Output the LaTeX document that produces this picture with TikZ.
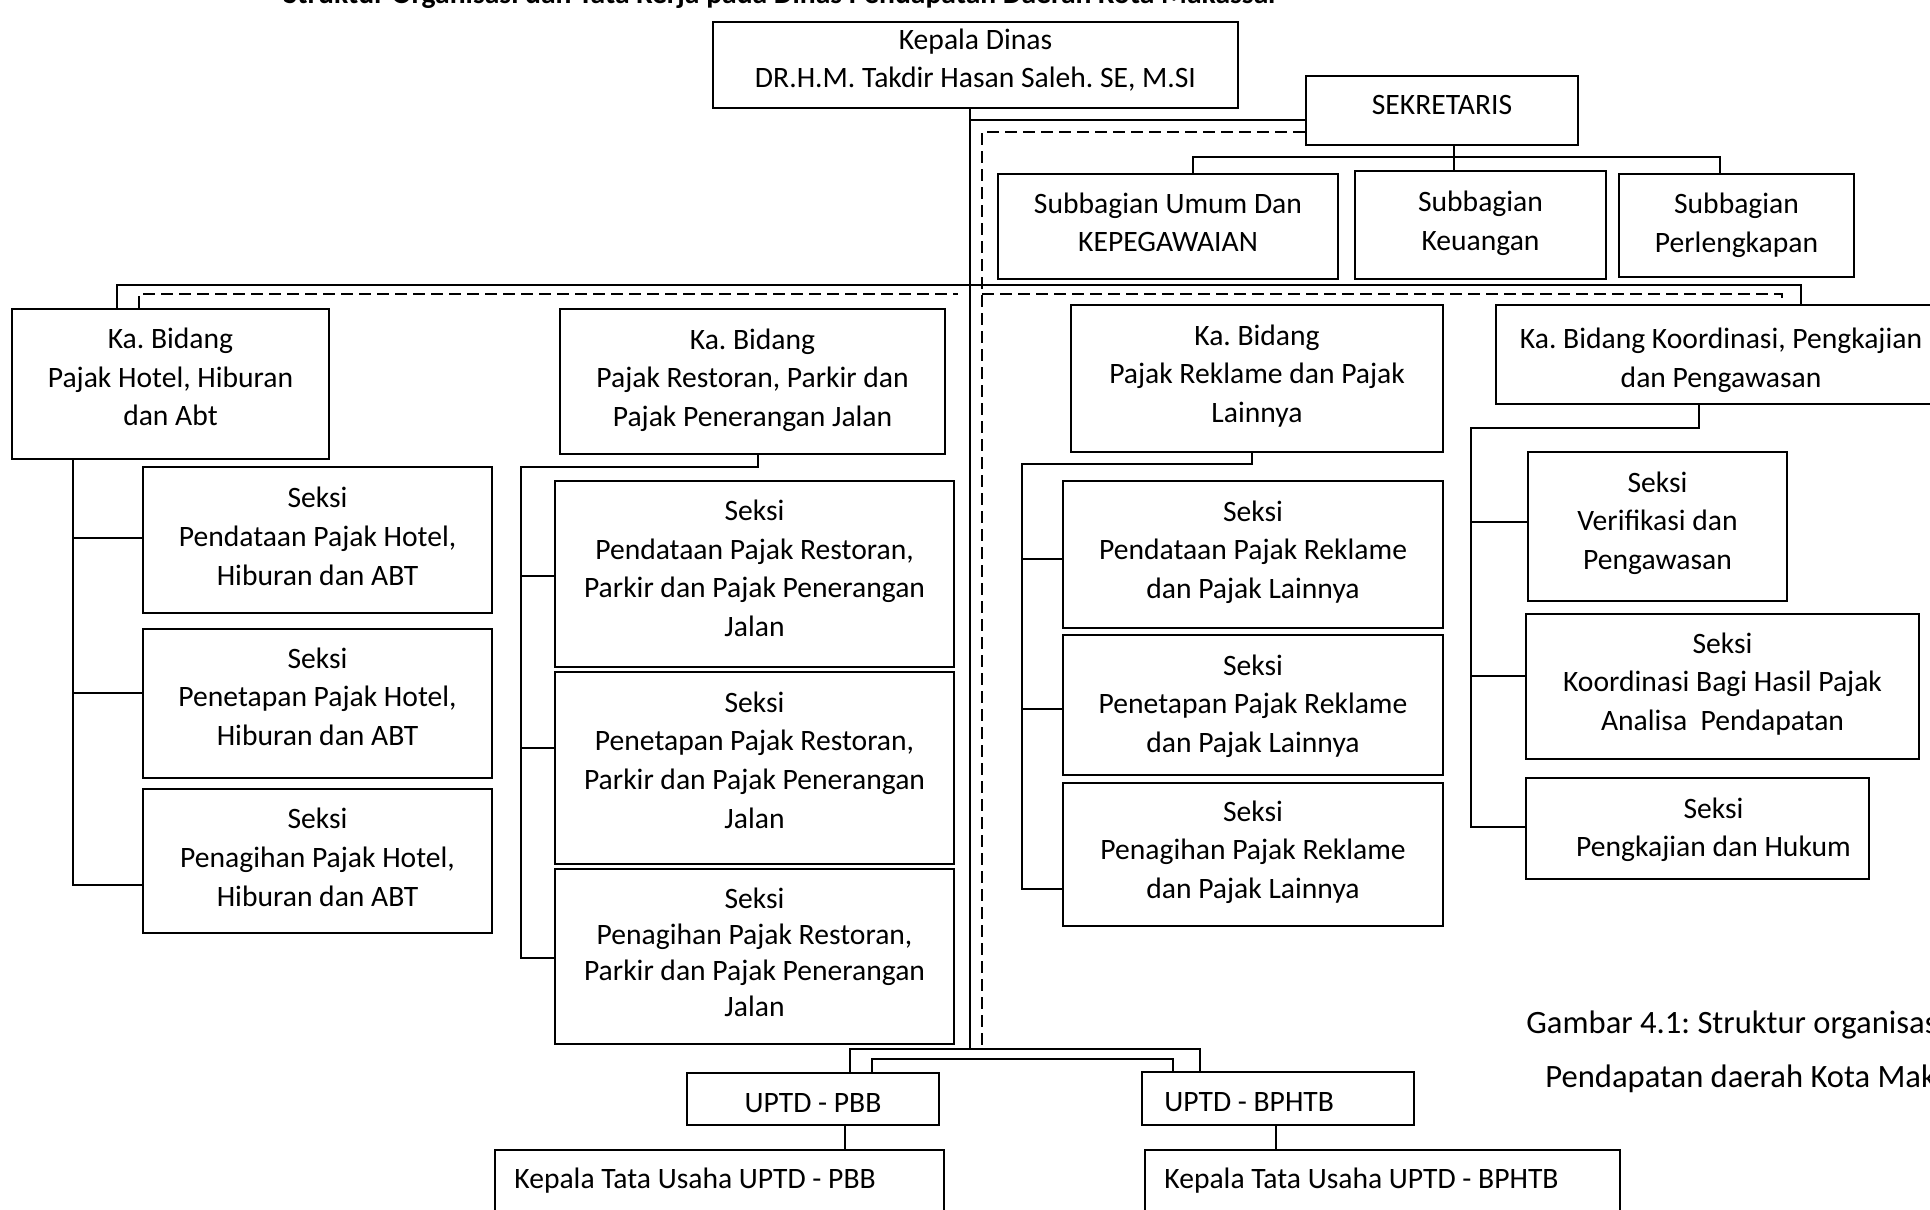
\documentclass[tikz,border=0pt]{standalone}
\usepackage{fontspec}
\setmainfont{Carlito}
\frenchspacing
% [text style]{name}{x1}{y1}{x2}{y2}{dx}{dy}{text}
\newcommand\bx[9][]{%
  \node[box, minimum width={0.5pt*(#5-#3)}, minimum height={0.5pt*(#6-#4)}] (#2) at ({(#3+#5)/2},{(#4+#6)/2}) {};
  \node[txt, align=center, #1] (#2-t) at ([xshift={0.5pt*(#7)}, yshift={-0.5pt*(#8)}]#2.center) {#9};}
\begin{document}
\begin{tikzpicture}[x=0.5pt,y=-0.5pt,
  box/.style={draw, line width=1.1pt, inner sep=0pt},
  txt/.style={inner sep=0pt, font=\fontsize{14.8}{19.3}\selectfont},
  conn/.style={line width=0.75pt},
  dconn/.style={line width=0.75pt, dash pattern=on 6pt off 3pt}]
\useasboundingbox (0,0) rectangle (1930,1209);
\clip (0,0) rectangle (1930,1209);
\fill[white] (0,0) rectangle (1930,1209);

% title (cut off at top)
\node[txt, font=\fontsize{14.8}{19.3}\selectfont\bfseries, anchor=base west] (title) at (283,4) {Struktur Organisasi dan Tata Kerja pada Dinas Pendapatan Daerah Kota Makassar};

% top level
\bx{kepala}{713}{22}{1238}{108}{0}{-5}{Kepala Dinas\\DR.H.M. Takdir Hasan Saleh. SE, M.SI}
\bx{sek}{1306}{76}{1578}{145}{0}{-6}{SEKRETARIS}
\bx{sumum}{998}{174}{1338}{279}{0}{-4}{Subbagian Umum Dan\\KEPEGAWAIAN}
\bx{skeu}{1355}{171}{1606}{279}{0}{-2}{Subbagian\\Keuangan}
\bx{sperl}{1619}{174}{1854}{277}{0}{0}{Subbagian\\Perlengkapan}

% bidang
\bx{bhotel}{12}{309}{329}{459}{0}{-7}{Ka. Bidang\\Pajak Hotel, Hiburan\\dan Abt}
\bx{bresto}{560}{309}{945}{454}{0}{-1.5}{Ka. Bidang\\Pajak Restoran, Parkir dan\\Pajak Penerangan Jalan}
\bx{breklame}{1071}{305}{1443}{452}{0}{-2.5}{Ka. Bidang\\Pajak Reklame dan Pajak\\Lainnya}
\bx{bkoord}{1496}{305}{1946}{404}{0}{6}{Ka. Bidang Koordinasi, Pengkajian\\dan Pengawasan}

% seksi hotel
\bx{sh1}{143}{467}{492}{613}{0}{-3.7}{Seksi\\Pendataan Pajak Hotel,\\Hiburan dan ABT}
\bx{sh2}{143}{629}{492}{778}{0}{-7}{Seksi\\Penetapan Pajak Hotel,\\Hiburan dan ABT}
\bx{sh3}{143}{789}{492}{933}{0}{-3.7}{Seksi\\Penagihan Pajak Hotel,\\Hiburan dan ABT}

% seksi restoran
\bx{sr1}{555}{481}{954}{667}{0}{-5.5}{Seksi\\Pendataan Pajak Restoran,\\Parkir dan Pajak Penerangan\\Jalan}
\bx{sr2}{555}{672}{954}{864}{0}{-8}{Seksi\\Penetapan Pajak Restoran,\\Parkir dan Pajak Penerangan\\Jalan}
\bx[font=\fontsize{14.8}{17.9}\selectfont]{sr3}{555}{869}{954}{1044}{0}{-4.3}{Seksi\\Penagihan Pajak Restoran,\\Parkir dan Pajak Penerangan\\Jalan}

% seksi reklame
\bx{sk1}{1063}{481}{1443}{628}{0}{-2.5}{Seksi\\Pendataan Pajak Reklame\\dan Pajak Lainnya}
\bx{sk2}{1063}{635}{1443}{775}{0}{1.2}{Seksi\\Penetapan Pajak Reklame\\dan Pajak Lainnya}
\bx{sk3}{1063}{783}{1443}{926}{0}{-2.5}{Seksi\\Penagihan Pajak Reklame\\dan Pajak Lainnya}

% seksi koordinasi
\bx{sv1}{1528}{452}{1787}{601}{0}{-3.3}{Seksi\\Verifikasi dan\\Pengawasan}
\bx{sv2}{1526}{614}{1919}{759}{0}{-2.5}{Seksi\\Koordinasi Bagi Hasil Pajak\\Analisa\ \ Pendapatan}
\bx{sv3}{1526}{778}{1869}{879}{16}{1.2}{Seksi\\Pengkajian dan Hukum}

% UPTD
\bx{upbb}{687}{1073}{939}{1125}{0}{3.7}{UPTD - PBB}
\node[box, minimum width={0.5pt*(1414-1142)}, minimum height={0.5pt*(1125-1072)}] (ubph) at ({(1142+1414)/2},{(1072+1125)/2}) {};
\node[txt, anchor=west] (ubphtxt) at (1164,1102) {UPTD - BPHTB};
\node[box, minimum width={0.5pt*(944-495)}, minimum height={0.5pt*(1260-1150)}] (ktpbb) at ({(495+944)/2},{(1150+1260)/2}) {};
\node[txt, anchor=west] (ktpbbtxt) at (514,1181) {Kepala Tata Usaha UPTD - PBB};
\node[box, minimum width={0.5pt*(1620-1145)}, minimum height={0.5pt*(1260-1150)}] (ktbph) at ({(1145+1620)/2},{(1150+1260)/2}) {};
\node[txt, anchor=west] (ktbphtxt) at (1164,1181) {Kepala Tata Usaha UPTD - BPHTB};

% caption
\node[txt, font=\fontsize{16.3}{20}\selectfont, anchor=west] (cap1) at (1526,1025) {Gambar 4.1: Struktur organisas};
\node[txt, font=\fontsize{16.3}{20}\selectfont, anchor=west] (cap2) at (1545,1079) {Pendapatan daerah Kota Mak};

% trunk coordinates
\coordinate (trunk) at (970,1049);
\coordinate (dtrunk) at (982,1049);

% Kepala -> trunk, sekretaris
\draw[conn] (kepala.south -| trunk) -- (trunk);
\draw[conn] (trunk |- 0,120) -- (sek.west |- 0,120);
\draw[dconn] (sek.west |- 0,132) -- (dtrunk |- 0,132) -- (dtrunk);

% sekretaris -> subbagian
\draw[conn] (sek.south -| 1454,0) -- (skeu.north -| 1454,0);
\draw[conn] (sumum.north -| 1193,0) -- (1193,157) -- (1720,157) -- (sperl.north -| 1720,0);

% main horizontal to bidang
\draw[conn] (bhotel.north -| 117,0) -- (117,285) -- (1801,285) -- (bkoord.north -| 1801,0);
\draw[dconn] (bhotel.north -| 139,0) -- (139,294) -- (958,294);
\draw[dconn] (dtrunk |- 0,294) -- (1782,294) -- (bkoord.north -| 1782,0);

% hotel bracket
\draw[conn] (bhotel.south -| 73,0) -- (73,885) -- (sh3.west |- 0,885);
\draw[conn] (73,538) -- (sh1.west |- 0,538);
\draw[conn] (73,693) -- (sh2.west |- 0,693);

% restoran bracket
\draw[conn] (bresto.south -| 758,0) -- (758,467) -- (521,467) -- (521,958) -- (sr3.west |- 0,958);
\draw[conn] (521,576) -- (sr1.west |- 0,576);
\draw[conn] (521,748) -- (sr2.west |- 0,748);

% reklame bracket
\draw[conn] (breklame.south -| 1252,0) -- (1252,464) -- (1022,464) -- (1022,889) -- (sk3.west |- 0,889);
\draw[conn] (1022,559) -- (sk1.west |- 0,559);
\draw[conn] (1022,709) -- (sk2.west |- 0,709);

% koordinasi bracket
\draw[conn] (bkoord.south -| 1699,0) -- (1699,428) -- (1471,428) -- (1471,827) -- (sv3.west |- 0,827);
\draw[conn] (1471,522) -- (sv1.west |- 0,522);
\draw[conn] (1471,676) -- (sv2.west |- 0,676);

% UPTD connections
\draw[conn] (upbb.north -| 850,0) -- (850,1049) -- (1200,1049) -- (ubph.north -| 1200,0);
\draw[conn] (upbb.north -| 872,0) -- (872,1059) -- (1173,1059) -- (ubph.north -| 1173,0);
\draw[conn] (upbb.south -| 845,0) -- (ktpbb.north -| 845,0);
\draw[conn] (ubph.south -| 1276,0) -- (ktbph.north -| 1276,0);
\end{tikzpicture}
\end{document}
